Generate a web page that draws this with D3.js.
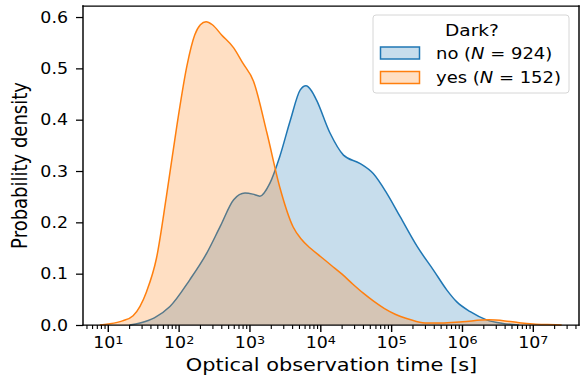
<!DOCTYPE html>
<html>
<head>
<meta charset="utf-8">
<script src="https://cdn.jsdelivr.net/npm/d3@7"></script>
<style>
  body { margin: 0; background: #fff; }
  text { font-family: "DejaVu Sans", sans-serif; fill: #000; }
</style>
</head>
<body>
<svg id="chart" width="587" height="376"></svg>
<script>
// log10 of observation time [s] and probability density
let noLogT = [1.3, 1.45, 1.65, 1.87, 2.15, 2.39, 2.58, 2.77, 2.93, 3.04, 3.14, 3.28, 3.42, 3.57, 3.71, 3.79, 3.87, 3.94, 4.13, 4.32, 4.55, 4.74, 4.93, 5.12, 5.36, 5.59, 5.78, 5.92, 6.11, 6.34, 6.57, 6.8];
let noDens = [0.0, 0.004, 0.014, 0.036, 0.088, 0.14, 0.192, 0.244, 0.257, 0.255, 0.251, 0.276, 0.328, 0.399, 0.458, 0.466, 0.456, 0.438, 0.374, 0.331, 0.315, 0.295, 0.257, 0.211, 0.153, 0.107, 0.068, 0.045, 0.026, 0.01, 0.003, 0.0];

let yesLogT = [0.88, 1.0, 1.2, 1.35, 1.54, 1.68, 1.82, 1.97, 2.11, 2.22, 2.3, 2.38, 2.47, 2.6, 2.77, 2.9, 3.05, 3.24, 3.42, 3.61, 3.72, 3.85, 4.0, 4.15, 4.3, 4.45, 4.6, 4.75, 4.9, 5.05, 5.2, 5.35, 5.5, 5.7, 6.0, 6.37, 6.6, 6.8, 7.0, 7.2, 7.4];
let yesDens = [0.0, 0.002, 0.008, 0.018, 0.065, 0.13, 0.25, 0.39, 0.505, 0.565, 0.585, 0.591, 0.585, 0.565, 0.54, 0.51, 0.475, 0.374, 0.269, 0.191, 0.168, 0.15, 0.133, 0.116, 0.099, 0.08, 0.062, 0.046, 0.032, 0.021, 0.013, 0.007, 0.004, 0.004, 0.0065, 0.01, 0.008, 0.0045, 0.002, 0.0008, 0.0];

let groups = ["no", "yes"];
let counts = [924, 152];
let colors = ["#1f77b4", "#ff7f0e"];
let yTicks = [0.0, 0.1, 0.2, 0.3, 0.4, 0.5, 0.6];
let xTicks = [1, 2, 3, 4, 5, 6, 7];

let svg = d3.select("#chart");
let mLeft = 83, mRight = 579, mTop = 6, mBottom = 325;
let sx = 1.16; // the picture is a bit wider than tall, text too

let x = d3.scaleLog().domain([Math.pow(10, 0.643), Math.pow(10, 7.645)]).range([mLeft, mRight]);
let y = d3.scaleLinear().domain([0, 0.6215]).range([mBottom, mTop]);

let series = [
    { name: groups[0], logT: noLogT, dens: noDens, color: colors[0] },
    { name: groups[1], logT: yesLogT, dens: yesDens, color: colors[1] }
];

let area = d3.area()
    .x(function (d) { return x(Math.pow(10, d[0])); })
    .y0(y(0))
    .y1(function (d) { return y(d[1]); })
    .curve(d3.curveMonotoneX);
let line = d3.line()
    .x(function (d) { return x(Math.pow(10, d[0])); })
    .y(function (d) { return y(d[1]); })
    .curve(d3.curveMonotoneX);

let plot = svg.append("g");
series.forEach(function (s) {
    let pts = s.logT.map(function (v, i) { return [v, s.dens[i]]; });
    plot.append("path")
        .attr("d", area(pts))
        .attr("fill", s.color)
        .attr("fill-opacity", 0.25);
    plot.append("path")
        .attr("d", line(pts))
        .attr("fill", "none")
        .attr("stroke", s.color)
        .attr("stroke-width", 1.5);
});

//? y axis
let yAxis = svg.append("g")
    .attr("transform", "translate(" + mLeft + ",0)")
    .call(d3.axisLeft(y).tickValues(yTicks).tickFormat(d3.format(".1f")).tickSize(7).tickPadding(6));
yAxis.select(".domain").remove();
yAxis.selectAll(".tick line").attr("stroke", "#000").attr("stroke-width", 1.25);
yAxis.selectAll(".tick text")
    .attr("x", 0).attr("dy", "0.35em")
    .attr("transform", "translate(-15,0) scale(" + sx + ",1)")
    .style("font-size", "15px").style("font-family", "DejaVu Sans");

//? x axis, major and minor ticks
let minor = [];
for (let e = 0; e <= 7; e++) {
    for (let m = 2; m <= 9; m++) {
        let v = m * Math.pow(10, e);
        if (v >= x.domain()[0] && v <= x.domain()[1]) minor.push(v);
    }
}
let xg = svg.append("g").attr("transform", "translate(0," + mBottom + ")");
xg.selectAll("line.minor").data(minor).enter().append("line")
    .attr("x1", function (d) { return x(d); })
    .attr("x2", function (d) { return x(d); })
    .attr("y1", 0).attr("y2", 4)
    .attr("stroke", "#000").attr("stroke-width", 1.1);
let major = xg.selectAll("g.major").data(xTicks).enter().append("g")
    .attr("transform", function (d) { return "translate(" + x(Math.pow(10, d)) + ",0)"; });
major.append("line").attr("y1", 0).attr("y2", 7).attr("stroke", "#000").attr("stroke-width", 1.4);
let lab = major.append("text")
    .attr("transform", "translate(0,22.5) scale(" + sx + ",1)")
    .attr("text-anchor", "middle").style("font-size", "15px");
lab.append("tspan").text("10");
lab.append("tspan").attr("dy", -3.8).style("font-size", "11px").text(function (d) { return d; });

//? frame
let frame = [
    [mLeft, mTop, mRight, mTop, 1.25],
    [mLeft, mBottom, mRight, mBottom, 1.25],
    [mLeft, mTop, mLeft, mBottom, 1.45],
    [mRight, mTop, mRight, mBottom, 1.45]
];
svg.append("g").selectAll("line").data(frame).enter().append("line")
    .attr("x1", function (d) { return d[0]; })
    .attr("y1", function (d) { return d[1]; })
    .attr("x2", function (d) { return d[2]; })
    .attr("y2", function (d) { return d[3]; })
    .attr("stroke", "#000")
    .attr("stroke-width", function (d) { return d[4]; })
    .attr("stroke-linecap", "square");

//? labels
svg.append("text")
    .attr("transform", "translate(331.5,371) scale(" + sx + ",1)")
    .attr("text-anchor", "middle").style("font-size", "18px")
    .text("Optical observation time [s]");
svg.append("text")
    .attr("transform", "translate(27," + ((mTop + mBottom) / 2) + ") scale(" + sx + ",1) rotate(-90)")
    .attr("text-anchor", "middle").style("font-size", "18px")
    .text("Probability density");

//? legend
let lg = svg.append("g").attr("transform", "translate(373,15)");
lg.append("rect").attr("width", 196).attr("height", 78).attr("rx", 3)
    .attr("fill", "#fff").attr("fill-opacity", 0.8).attr("stroke", "#d6d6d6");
lg.append("text")
    .attr("transform", "translate(99,20.5) scale(" + sx + ",1)")
    .attr("text-anchor", "middle").style("font-size", "16px").text("Dark?");
series.forEach(function (s, i) {
    let row = lg.append("g").attr("transform", "translate(0," + (32 + i * 24.5) + ")");
    row.append("rect").attr("x", 7.5).attr("width", 39).attr("height", 12)
        .attr("fill", s.color).attr("fill-opacity", 0.25).attr("stroke", s.color).attr("stroke-width", 1.5);
    let t = row.append("text")
        .attr("transform", "translate(63,11.5) scale(" + sx + ",1)")
        .style("font-size", "15.5px");
    t.append("tspan").text(s.name + " (");
    t.append("tspan").style("font-style", "italic").text("N");
    t.append("tspan").text(" = " + counts[i] + ")");
});
</script>
</body>
</html>
